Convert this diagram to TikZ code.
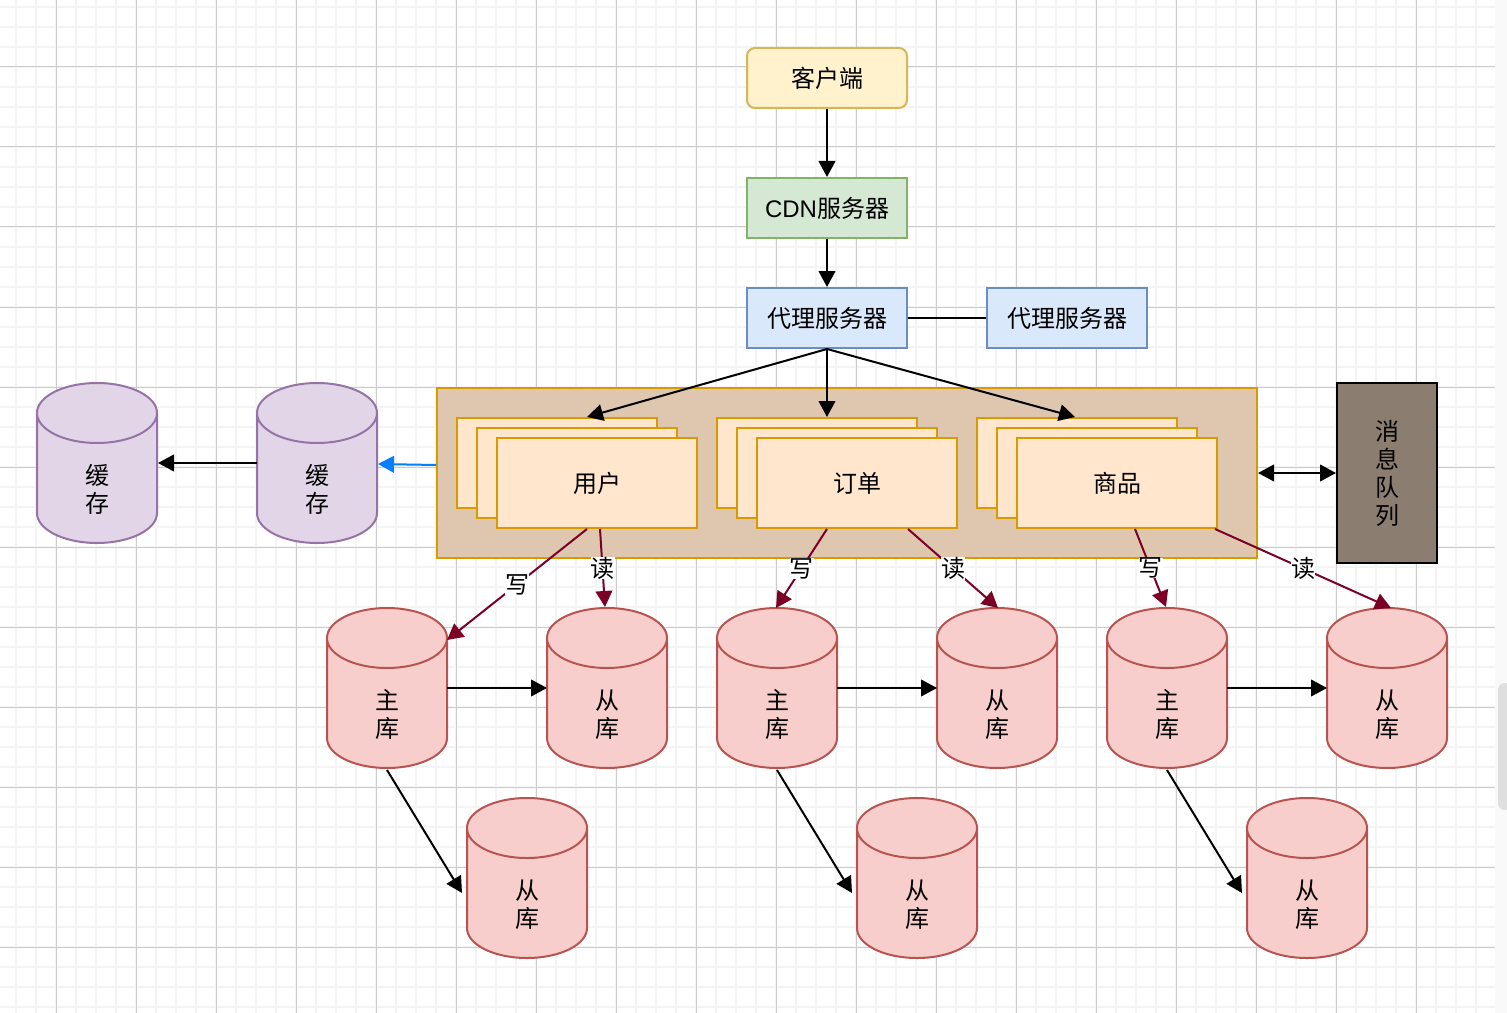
\documentclass[tikz,border=0pt]{standalone}
\usepackage{fontspec}
\setmainfont{Noto Sans CJK SC}
\newfontfamily\latinfont{Liberation Sans}
\usetikzlibrary{arrows.meta,calc,shapes.geometric}
\definecolor{gridminor}{HTML}{F4F4F4}
\definecolor{gridmajor}{HTML}{CCCCCC}
\definecolor{wine}{HTML}{7A0026}
\definecolor{clientfill}{HTML}{FFF2CC}
\definecolor{clientline}{HTML}{D6B656}
\definecolor{cdnfill}{HTML}{D5E8D4}
\definecolor{cdnline}{HTML}{82B366}
\definecolor{proxyfill}{HTML}{DAE8FC}
\definecolor{proxyline}{HTML}{6C8EBF}
\definecolor{servicefill}{HTML}{FFE6CC}
\definecolor{serviceline}{HTML}{D79B00}
\definecolor{groupfill}{HTML}{DFC7AF}
\definecolor{queuefill}{HTML}{8B7D6F}
\definecolor{cachefill}{HTML}{E1D5E7}
\definecolor{cacheline}{HTML}{9673A6}
\definecolor{dbfill}{HTML}{F8CECC}
\definecolor{dbline}{HTML}{B85450}
\definecolor{bluearrow}{HTML}{007FFF}
\newcommand{\dbtext}[2]{\raisebox{-15pt}[15pt][15pt]{\begin{tabular}{@{}c@{}}#1\\#2\end{tabular}}}
\tikzset{
  box/.style={draw,line width=1.5pt,minimum width=120pt,minimum height=45pt,inner sep=0pt,font=\fontsize{18}{21}\selectfont,align=center},
  clientbox/.style={box,rounded corners=6pt,fill=clientfill,draw=clientline},
  cdnbox/.style={box,fill=cdnfill,draw=cdnline},
  proxybox/.style={box,fill=proxyfill,draw=proxyline},
  servicebox/.style={box,minimum width=150pt,minimum height=67.5pt,fill=servicefill,draw=serviceline},
  dbnode/.style={cylinder,shape border rotate=90,anchor=shape center,draw,line width=1.5pt,minimum width=90pt,minimum height=120pt,aspect=2.5,inner sep=0pt,cylinder uses custom fill,font=\fontsize{18}{21}\selectfont},
  reddb/.style={dbnode,cylinder body fill=dbfill,cylinder end fill=dbfill,draw=dbline},
  purpledb/.style={dbnode,cylinder body fill=cachefill,cylinder end fill=cachefill,draw=cacheline},
  conn/.style={-{Triangle[length=12pt,width=12.5pt]},line width=1.5pt},
  rw/.style={conn,draw=wine},
  rwlabel/.style={midway,fill=white,inner sep=0pt,font=\fontsize{18}{21}\selectfont}
}
\begin{document}
\begin{tikzpicture}[x=0.75pt,y=-0.75pt]
\useasboundingbox (0,0) rectangle (1507,1013);
\fill[white] (0,0) rectangle (1507,1013);
% grid
\foreach \gx in {16,36,...,1495} \draw[gridminor,line width=1.5pt] (\gx,0) -- (\gx,1013);
\foreach \gy in {7,27,...,1013} \draw[gridminor,line width=1.5pt] (0,\gy) -- (1495,\gy);
\foreach \gx in {56,136,...,1495} \draw[gridmajor,line width=.75pt] (\gx,0) -- (\gx,1013);
\foreach \gy in {67,147,...,1013} \draw[gridmajor,line width=.75pt] (0,\gy) -- (1495,\gy);
\fill[gray!5] (1495,0) rectangle (1507,1013);
\fill[gray!25,rounded corners=5pt] (1498,683) rectangle (1512,810);

\node[clientbox] (client) at (827,78) {客户端};
\node[cdnbox] (cdn) at (827,208) {{\latinfont CDN}服务器};
\node[proxybox] (proxy) at (827,318) {代理服务器};
\node[proxybox] (proxyb) at (1067,318) {代理服务器};

\node[draw=serviceline,line width=1.5pt,fill=groupfill,minimum width=615pt,minimum height=127.5pt,inner sep=0pt] (services) at (847,473) {};
\node[servicebox] (usera) at (557,463) {};
\node[servicebox] (userb) at (577,473) {};
\node[servicebox] (user) at (597,483) {用户};
\node[servicebox] (ordera) at (817,463) {};
\node[servicebox] (orderb) at (837,473) {};
\node[servicebox] (order) at (857,483) {订单};
\node[servicebox] (gooda) at (1077,463) {};
\node[servicebox] (goodb) at (1097,473) {};
\node[servicebox] (good) at (1117,483) {商品};

\node[draw=black,line width=1.5pt,fill=queuefill,minimum width=75pt,minimum height=135pt,inner sep=0pt,align=center,font=\fontsize{18}{21}\selectfont] (queue) at (1387,473) {消\\息\\队\\列};

\node[purpledb] (cachea) at (97,463) {\dbtext{缓}{存}};
\node[purpledb] (cacheb) at (317,463) {\dbtext{缓}{存}};

% user
\node[reddb] (mastera) at (387,688) {\dbtext{主}{库}};
\node[reddb] (slavea) at (607,688) {\dbtext{从}{库}};
\node[reddb] (slaveb) at (527,878) {\dbtext{从}{库}};
% order
\node[reddb] (masterb) at (777,688) {\dbtext{主}{库}};
\node[reddb] (slavec) at (997,688) {\dbtext{从}{库}};
\node[reddb] (slaved) at (917,878) {\dbtext{从}{库}};
% goods
\node[reddb] (masterc) at (1167,688) {\dbtext{主}{库}};
\node[reddb] (slavee) at (1387,688) {\dbtext{从}{库}};
\node[reddb] (slavef) at (1307,878) {\dbtext{从}{库}};

\draw[conn] (client) -- (cdn);
\draw[conn] (cdn) -- (proxy);
\draw[line width=1.5pt] (proxy) -- (proxyb);
\draw[conn] (proxy.south) -- ($(usera.north)+(30,0)$);
\draw[conn] (proxy.south) -- (ordera.north -| proxy.south);
\draw[conn] (proxy.south) -- ($(gooda.north)+(-2,0)$);
\draw[conn,{Triangle[length=12pt,width=12.5pt]}-{Triangle[length=12pt,width=12.5pt]}] (services.east) -- (queue.west);
\draw[conn,draw=bluearrow] (services.west |- 0,465) -- ($(cacheb.shape center)+(61,1)$);
\draw[conn] ($(cacheb.shape center)+(-60,0)$) -- ($(cachea.shape center)+(61,0)$);

\foreach \master/\slave/\other in {mastera/slavea/slaveb,masterb/slavec/slaved,masterc/slavee/slavef}{
  \draw[conn] ($(\master.shape center)+(60,0)$) -- ($(\slave.shape center)+(-60,0)$);
  \draw[conn] ($(\master.shape center)+(0,82)$) -- ($(\other.shape center)+(-65,15)$);
}

\draw[rw] ($(user.south)+(-10,0)$) -- node[rwlabel] {写} ($(mastera.shape center)+(60,-48)$);
\draw[rw] ($(user.south)+(3,0)$) -- node[rwlabel] {读} ($(slavea.shape center)+(-2,-81)$);
\draw[rw] ($(order.south)+(-30,0)$) -- node[rwlabel] {写} ($(masterb.shape center)+(-1,-80)$);
\draw[rw] ($(order.south)+(51,0)$) -- node[rwlabel] {读} ($(slavec.shape center)+(1,-80)$);
\draw[rw] ($(good.south)+(18,0)$) -- node[rwlabel] {写} ($(masterc.shape center)+(-1,-81)$);
\draw[rw] ($(good.south)+(98,0)$) -- node[rwlabel] {读} ($(slavee.shape center)+(4,-80)$);
\end{tikzpicture}
\end{document}
